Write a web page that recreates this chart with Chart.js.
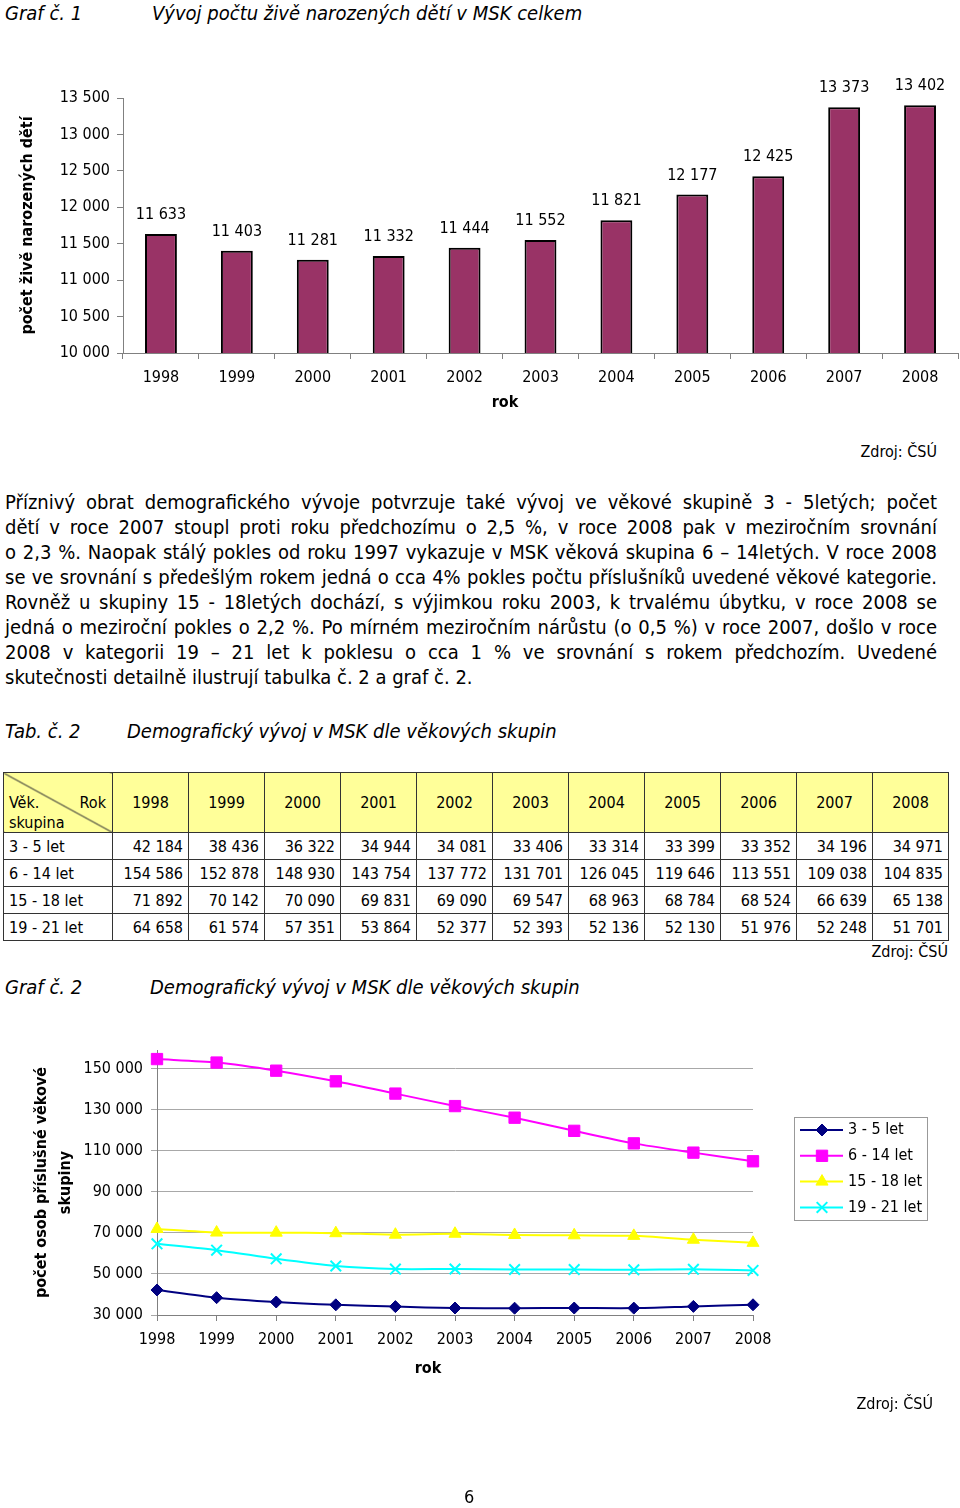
<!DOCTYPE html>
<html lang="cs">
<head>
<meta charset="utf-8">
<script src="https://cdn.jsdelivr.net/npm/chart.js@4.4.1/dist/chart.umd.min.js"></script>
<style>
  body { margin: 0; background: #fff; }
  #page { position: relative; width: 960px; height: 1508px; overflow: hidden; color: #000;
          font-family: "DejaVu Sans Condensed", "Noto Sans", sans-serif; }
  .t { position: absolute; white-space: nowrap; line-height: 24px; }
  .cap { font-style: italic; font-size: 20px; }
  .src { font-size: 16px; }
  .axt { font-size: 16px; font-weight: bold; transform: translateX(-50%); }
  canvas { position: absolute; left: 0; }
  #para { position: absolute; left: 5px; top: 490px; width: 932px; font-size: 20px; line-height: 25px; }
  #para div { text-align: justify; text-align-last: justify; white-space: nowrap; }
  #para div.last { text-align-last: left; }
  #tab { position: absolute; left: 3px; top: 772px; border-collapse: collapse; table-layout: fixed;
         width: 945px; font-size: 16px; }
  #tab th, #tab td { border: 1px solid #333; padding: 0 5px; text-align: right; white-space: nowrap; }
  #tab tr { height: 27px; }
  #tab tr.hd { height: 60px; }
  #tab th { background: #ffff99; font-weight: normal; text-align: center; }
  #tab td.lab { text-align: left; }
  #tab th.corner { padding: 0;
    background: #ffff99 linear-gradient(to top right, transparent calc(50% - 1px), #333 50%, transparent calc(50% + 1px)); }
  .cn { position: relative; height: 59px; }
  .cn span { position: absolute; line-height: 20px; }
</style>
</head>
<body>
<div id="page">
  <div class="t cap" style="left:5px; top:1px;">Graf č. 1</div>
  <div class="t cap" style="left:152px; top:1px;">Vývoj počtu živě narozených dětí v MSK celkem</div>
  <canvas id="birthsChart" width="960" height="360" style="top:60px; width:960px; height:360px;"></canvas>
  <div class="t axt" style="left:505px; top:390px;">rok</div>
  <div class="t src" style="right:23px; top:440px;">Zdroj: ČSÚ</div>

  <div id="para">
    <div>Příznivý obrat demografického vývoje potvrzuje také vývoj ve věkové skupině 3 - 5letých; počet</div>
    <div>dětí v roce 2007 stoupl proti roku předchozímu o 2,5 %, v roce 2008 pak v meziročním srovnání</div>
    <div>o 2,3 %. Naopak stálý pokles od roku 1997 vykazuje v MSK věková skupina 6 – 14letých. V roce 2008</div>
    <div>se ve srovnání s předešlým rokem jedná o cca 4% pokles počtu příslušníků uvedené věkové kategorie.</div>
    <div>Rovněž u skupiny 15 - 18letých dochází, s výjimkou roku 2003, k trvalému úbytku, v roce 2008 se</div>
    <div>jedná o meziroční pokles o 2,2 %. Po mírném meziročním nárůstu (o 0,5 %) v roce 2007, došlo v roce</div>
    <div>2008 v kategorii 19 – 21 let k poklesu o cca 1 % ve srovnání s rokem předchozím. Uvedené</div>
    <div class="last">skutečnosti detailně ilustrují tabulka č. 2 a graf č. 2.</div>
  </div>

  <div class="t cap" style="left:5px; top:719px;">Tab. č. 2</div>
  <div class="t cap" style="left:127px; top:719px;">Demografický vývoj v MSK dle věkových skupin</div>
  <table id="tab"></table>
  <div class="t src" style="right:12px; top:940px;">Zdroj: ČSÚ</div>

  <div class="t cap" style="left:5px; top:975px;">Graf č. 2</div>
  <div class="t cap" style="left:150px; top:975px;">Demografický vývoj v MSK dle věkových skupin</div>
  <canvas id="groupsChart" width="960" height="360" style="top:1040px; width:960px; height:360px;"></canvas>
  <div class="t axt" style="left:428px; top:1356px;">rok</div>
  <div class="t src" style="right:27px; top:1392px;">Zdroj: ČSÚ</div>

  <div class="t" style="left:464px; top:1485px; font-size:18px;">6</div>
</div>

<script>
// data
const years = ['1998', '1999', '2000', '2001', '2002', '2003', '2004', '2005', '2006', '2007', '2008'];
const births = [11633, 11403, 11281, 11332, 11444, 11552, 11821, 12177, 12425, 13373, 13402];

const groupNames = ['3 - 5 let', '6 - 14 let', '15 - 18 let', '19 - 21 let'];
const age3to5 = [42184, 38436, 36322, 34944, 34081, 33406, 33314, 33399, 33352, 34196, 34971];
const age6to14 = [154586, 152878, 148930, 143754, 137772, 131701, 126045, 119646, 113551, 109038, 104835];
const age15to18 = [71892, 70142, 70090, 69831, 69090, 69547, 68963, 68784, 68524, 66639, 65138];
const age19to21 = [64658, 61574, 57351, 53864, 52377, 52393, 52136, 52130, 51976, 52248, 51701];

const birthTicks = [10000, 10500, 11000, 11500, 12000, 12500, 13000, 13500];
const groupTicks = [30000, 50000, 70000, 90000, 110000, 130000, 150000];

const FONT = '"DejaVu Sans Condensed", "Noto Sans", sans-serif';
const AXIS = '#808080';

function fmt(n) {
  return String(n).replace(/\B(?=(\d{3})+(?!\d))/g, ' ');
}

Chart.defaults.font.family = FONT;
Chart.defaults.font.size = 16;
Chart.defaults.color = '#000';

// tabulka
const groups = [age3to5, age6to14, age15to18, age19to21];
let html = '<colgroup><col style="width:109px">' + years.map(() => '<col style="width:76px">').join('') + '</colgroup>';
html += '<tr class="hd"><th class="corner"><div class="cn">' +
  '<span style="left:5px; top:20px;">Věk.</span>' +
  '<span style="right:6px; top:20px;">Rok</span>' +
  '<span style="left:5px; top:40px;">skupina</span></div></th>' +
  years.map(y => '<th>' + y + '</th>').join('') + '</tr>';
groups.forEach((g, i) => {
  html += '<tr><td class="lab">' + groupNames[i] + '</td>' + g.map(v => '<td>' + fmt(v) + '</td>').join('') + '</tr>';
});
document.getElementById('tab').innerHTML = html;

// popisky nad sloupci
const barValueLabels = {
  id: 'barValueLabels',
  afterDatasetsDraw(chart) {
    const ctx = chart.ctx;
    const ds = chart.data.datasets[0];
    ctx.save();
    ctx.font = '16px ' + FONT;
    ctx.fillStyle = '#000';
    ctx.textAlign = 'center';
    ctx.textBaseline = 'middle';
    chart.getDatasetMeta(0).data.forEach((bar, i) => {
      ctx.fillText(fmt(ds.data[i]), bar.x, bar.y - 19);
    });
    ctx.restore();
  }
};

new Chart(document.getElementById('birthsChart'), {
  type: 'bar',
  data: {
    labels: years,
    datasets: [{
      data: births,
      backgroundColor: '#993366',
      borderColor: '#000',
      borderWidth: 2,
      borderSkipped: false,
      categoryPercentage: 1,
      barPercentage: 0.42
    }]
  },
  options: {
    responsive: false,
    animation: false,
    layout: { padding: { top: 38, right: 2, left: 0, bottom: 0 } },
    plugins: { legend: { display: false }, tooltip: { enabled: false } },
    scales: {
      x: {
        grid: { drawOnChartArea: false, color: AXIS, tickLength: 6 },
        border: { color: AXIS },
        ticks: { padding: 9 },
        afterFit: s => { s.height = 67; }
      },
      y: {
        min: 10000,
        max: 13500,
        afterBuildTicks: s => { s.ticks = birthTicks.map(v => ({ value: v })); },
        ticks: { padding: 7, callback: v => fmt(v) },
        grid: { drawOnChartArea: false, color: AXIS, tickLength: 6 },
        border: { color: AXIS },
        title: { display: true, text: 'počet živě narozených dětí', font: { weight: 'bold', size: 16 }, padding: { top: 18, bottom: 0 } },
        afterFit: s => { s.width = 123; }
      }
    }
  },
  plugins: [barValueLabels]
});

// legenda s čárou a značkou
const lineLegend = {
  id: 'lineLegend',
  afterDraw(chart) {
    const ctx = chart.ctx;
    const a = chart.chartArea;
    const x0 = Math.round(a.right + 41), y0 = Math.round(a.top + 67);
    ctx.save();
    ctx.strokeStyle = '#999';
    ctx.lineWidth = 1;
    ctx.strokeRect(x0 + 0.5, y0 + 0.5, 133, 103);
    chart.data.datasets.forEach((ds, i) => {
      const cy = y0 + 13 + i * 25.8;
      ctx.strokeStyle = ds.borderColor;
      ctx.lineWidth = ds.borderWidth;
      ctx.beginPath();
      ctx.moveTo(x0 + 6, cy);
      ctx.lineTo(x0 + 49, cy);
      ctx.stroke();
      ctx.fillStyle = ds.pointBackgroundColor;
      ctx.strokeStyle = ds.pointBorderColor;
      ctx.lineWidth = ds.pointBorderWidth;
      Chart.helpers.drawPoint(ctx, { pointStyle: ds.pointStyle, radius: ds.pointRadius, borderWidth: ds.pointBorderWidth, rotation: 0 }, x0 + 28, cy);
      ctx.fillStyle = '#000';
      ctx.font = '16px ' + FONT;
      ctx.textAlign = 'left';
      ctx.textBaseline = 'middle';
      ctx.fillText(ds.label, x0 + 54, cy);
    });
    ctx.restore();
  }
};

function series(label, data, color, style, radius, pw) {
  return {
    label: label,
    data: data,
    borderColor: color,
    backgroundColor: color,
    borderWidth: 2,
    pointStyle: style,
    pointRadius: radius,
    pointBackgroundColor: color,
    pointBorderColor: color,
    pointBorderWidth: pw,
    tension: 0.25,
    clip: false
  };
}

new Chart(document.getElementById('groupsChart'), {
  type: 'line',
  data: {
    labels: years,
    datasets: [
      series(groupNames[0], age3to5, '#000080', 'rectRot', 6, 1),
      series(groupNames[1], age6to14, '#ff00ff', 'rect', 8, 1),
      series(groupNames[2], age15to18, '#ffff00', 'triangle', 7, 1),
      series(groupNames[3], age19to21, '#00ffff', 'crossRot', 7.5, 2)
    ]
  },
  options: {
    responsive: false,
    animation: false,
    layout: { autoPadding: false, padding: { top: 10, right: 207, left: 0, bottom: 0 } },
    plugins: { legend: { display: false }, tooltip: { enabled: false } },
    scales: {
      x: {
        offset: false,
        grid: { drawOnChartArea: false, color: AXIS, tickLength: 6 },
        border: { color: AXIS },
        ticks: { padding: 9 },
        afterFit: s => { s.height = 85; }
      },
      y: {
        min: 30000,
        max: 159000,
        afterBuildTicks: s => { s.ticks = groupTicks.map(v => ({ value: v })); },
        ticks: { padding: 8, callback: v => fmt(v) },
        grid: { color: '#a8a8a8', tickLength: 6 },
        border: { color: AXIS },
        title: {
          display: true,
          text: ['počet osob příslušné věkové', 'skupiny'],
          font: { weight: 'bold', size: 16, lineHeight: 1.5 },
          padding: { top: 30, bottom: 0 }
        },
        // horní popisek 150 000 není na okraji, takže netřeba extra odsazení
        afterFit: s => { s.width = 157; s.paddingTop = 0; }
      }
    }
  },
  plugins: [lineLegend]
});
</script>
</body>
</html>
